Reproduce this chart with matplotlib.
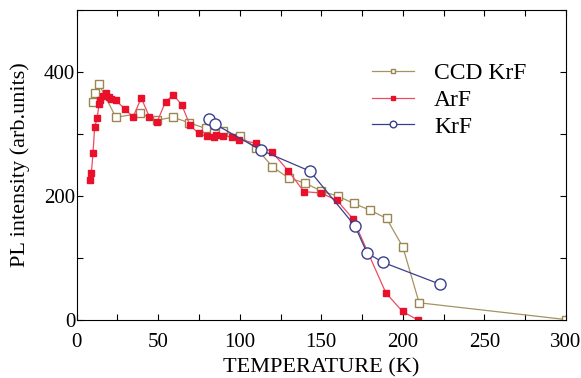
import matplotlib.pyplot as plt
from matplotlib.ticker import MultipleLocator

# CCD KrF (open squares)
ccd_t = [10, 11, 13.5, 24, 39, 49, 59, 69, 79, 90, 100, 110, 120, 130, 140, 150, 160, 170, 180, 190, 200, 210, 300]
ccd_i = [352, 366, 381, 327, 333, 322, 327, 318, 309, 304, 296, 278, 247, 229, 221, 208, 200, 188, 177, 164, 118, 28, 1]

# ArF (filled small squares)
arf_t = [8.4, 9.0, 10.0, 11.0, 12.5, 13.7, 14.5, 16.1, 18.2, 19.8, 21.3, 23.9, 29.4, 34.5, 39.6, 44.5,
         49.4, 54.5, 59.3, 64.4, 69.5, 74.7, 79.8, 84.4, 85.7, 90, 95, 99.8, 109.7, 119.8, 129.6,
         139.4, 149.6, 159.7, 169.5, 189.6, 199.8, 209.4]
arf_i = [226, 237, 269, 311, 325, 348, 355, 361, 366, 360, 356, 354, 341, 327, 358, 328,
         320, 352, 363, 347, 314, 301, 296, 295, 298, 297, 295, 291, 285, 271, 241,
         207, 205, 193, 163, 44, 14, 0]

# KrF (open circles)
krf_t = [81.3, 84.7, 112.9, 143.1, 170.6, 178.1, 188, 222.7]
krf_i = [324, 316, 274, 240, 152, 108, 93, 58]

plt.rcParams['font.family'] = ['Liberation Serif', 'DejaVu Serif']
plt.rcParams['font.size'] = 15

fig = plt.figure(figsize=(5.81, 3.78), dpi=100)
ax = fig.add_axes([0.132, 0.153, 0.842, 0.821])

ax.plot(ccd_t, ccd_i, color='#a39462', lw=0.9, marker='s', ms=6,
        mfc='white', mec='#9a8650', mew=1.0, label='CCD KrF')
ax.plot(arf_t, arf_i, color='#f04a63', lw=0.9, marker='s', ms=4,
        mfc='#e8102a', mec='#e8102a', label='ArF')
ax.plot(krf_t, krf_i, color='#3a3f8c', lw=0.9, marker='o', ms=8,
        mfc='white', mec='#3a3f8c', mew=1.0, label='KrF')

ax.set_xlim(0, 300)
ax.set_ylim(0, 500)
ax.xaxis.set_major_locator(MultipleLocator(50))
ax.xaxis.set_minor_locator(MultipleLocator(25))
ax.yaxis.set_major_locator(MultipleLocator(200))
ax.yaxis.set_minor_locator(MultipleLocator(100))
ax.tick_params(which='both', direction='in', top=True, right=True, length=4, width=0.8,
               labelsize=15)
ax.tick_params(axis='y', pad=1)
ax.tick_params(axis='x', pad=9)
ax.set_yticks([0, 200, 400])

ax.set_xlabel('TEMPERATURE (K)', fontsize=16, labelpad=5)
ax.set_ylabel('PL intensity (arb.units)', fontsize=16, labelpad=10)

ax.legend(loc='upper left', bbox_to_anchor=(0.603, 0.83), frameon=False,
          borderpad=0, borderaxespad=0, fontsize=17, markerscale=0.6,
          handlelength=1.8, handletextpad=0.85, labelspacing=0.22)

fig.savefig('out.png', dpi=100)
